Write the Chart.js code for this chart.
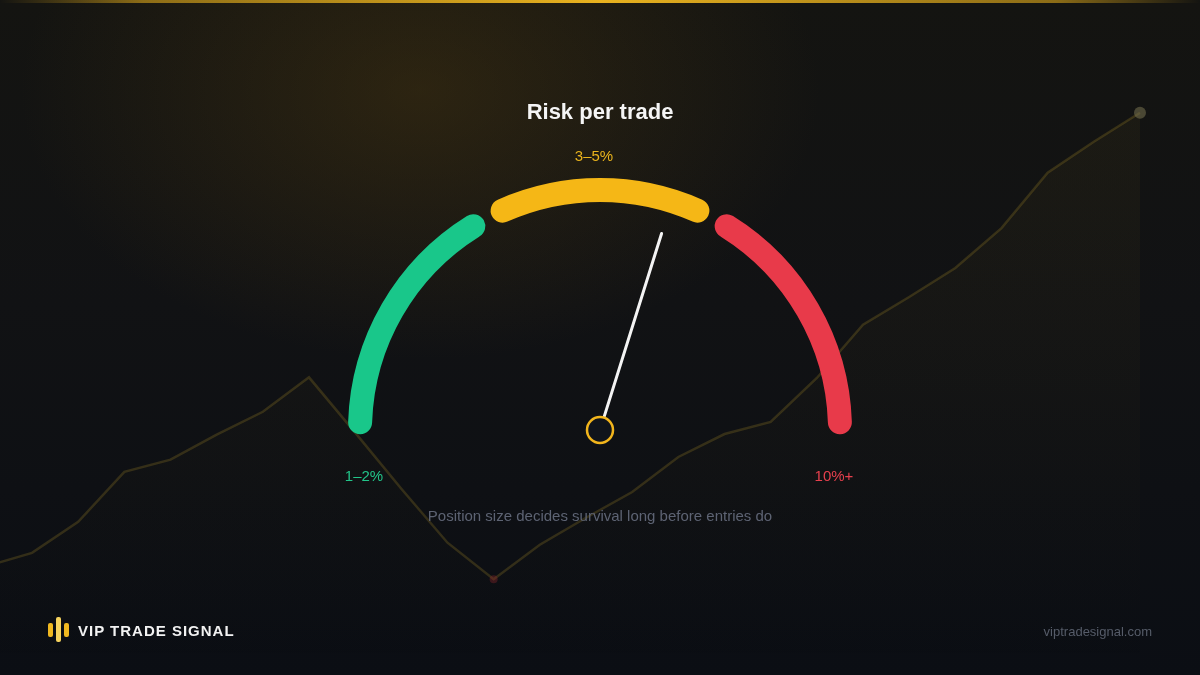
<!DOCTYPE html>
<html><head><meta charset="utf-8">
<script src="https://cdn.jsdelivr.net/npm/chart.js@4.4.1/dist/chart.umd.min.js"></script>
<style>
html,body{margin:0;padding:0;width:1200px;height:675px;overflow:hidden;background:#0c0f15;}
#stage{position:relative;width:1200px;height:675px;overflow:hidden;
background:
 radial-gradient(ellipse 400px 270px at 420px 90px, rgba(90,66,16,0.36), rgba(90,66,16,0) 100%),
 linear-gradient(180deg,#141411 0%,#111214 45%,#0b0e14 100%);
font-family:"Liberation Sans", Arial, sans-serif;}
#topbar{position:absolute;left:0;top:0;width:1200px;height:3px;background:linear-gradient(90deg,rgba(200,150,20,0) 0%, rgba(190,145,25,.7) 12%, #e9b21f 50%, rgba(190,145,25,.7) 88%, rgba(200,150,20,0) 100%);}
#bg{position:absolute;left:0;top:0;}
#gauge{position:absolute;left:320px;top:150px;}
.t{position:absolute;white-space:nowrap;transform:translate(-50%,-50%);line-height:1;}
#title{left:600px;top:112px;font-weight:bold;font-size:22px;color:#f5f5f5;}
#sub{left:600px;top:515px;font-size:15px;color:#5d6373;}
#brand{position:absolute;left:78px;top:630px;transform:translateY(-50%);font-weight:bold;font-size:15px;letter-spacing:1px;color:#f2f2f2;line-height:1;}
#site{position:absolute;right:48px;top:631px;transform:translateY(-50%);font-size:13px;color:#565c69;line-height:1;}
.bar{position:absolute;width:5px;border-radius:2px;}
</style></head>
<body>
<div id="stage">
  <div id="topbar"></div>
  <canvas id="bg" width="1200" height="675"></canvas>
  <div class="t" id="title">Risk per trade</div>
  <div class="t" id="sub">Position size decides survival long before entries do</div>
  <div id="zoneLabels"></div>
  <canvas id="gauge" width="560" height="560"></canvas>
  <div class="bar" style="left:48px;top:623px;height:14px;background:#f0b820;"></div>
  <div class="bar" style="left:56px;top:617px;height:25px;background:#f6d35e;"></div>
  <div class="bar" style="left:64px;top:623px;height:14px;background:#f0b820;"></div>
  <div id="brand">VIP TRADE SIGNAL</div>
  <div id="site">viptradesignal.com</div>
</div>
<script>
// ---- background trend line (decorative price path) ----
const trendIndex  = [-1,0,1,2,3,4,5,6,7,8,9,10,11,12,13,14,15,16,17,18,19,20,21,22,23,24];
const trendValues = [16.1,18.1,22.7,30.1,31.9,35.6,39.0,44.1,35.9,27.6,19.6,14.2,19.3,23.3,27.1,32.3,35.7,37.5,44.0,51.9,56.0,60.3,66.2,74.4,79.0,83.3];
const troughIndex = 10;

// ---- gauge ----
const zoneLabels = ['1–2%','3–5%','10%+'];
const zoneSweeps = [62, 53.6, 62];      // degrees of the dial covered by each band
const zoneGap = 2.2;                      // degrees between bands
const zoneColors = ['#19c78a','#f5b716','#e83a4a'];
const zoneTextColors = ['#22c489','#e9b31c','#e5404d'];
const dialOffset = -1;                    // first band starts 1° below horizontal
const needleValue = 107.4;                // needle position, degrees along the dial from the left

const trendPoints = trendIndex.map((x,i)=>({x, y: trendValues[i]}));
const last = trendPoints.length - 1;

new Chart(document.getElementById('bg'), {
  type:'line',
  data:{datasets:[{
    data: trendPoints,
    borderColor:'rgba(205,170,45,0.2)',
    borderWidth:2.5,
    tension:0,
    fill:'origin',
    clip:false,
    backgroundColor:(ctx)=>{
      const c = ctx.chart.ctx;
      const g = c.createLinearGradient(0,100,0,675);
      g.addColorStop(0,'rgba(200,165,50,0.05)');
      g.addColorStop(1,'rgba(200,165,50,0)');
      return g;
    },
    pointRadius: trendPoints.map((p,i)=> i===last ? 6 : (trendIndex[i]===troughIndex ? 4 : 0)),
    pointBackgroundColor: trendPoints.map((p,i)=> i===last ? 'rgba(120,115,80,0.55)' : 'rgba(150,40,45,0.35)'),
    pointBorderWidth:0
  }]},
  options:{
    responsive:false, animation:false, events:[],
    layout:{padding:0, autoPadding:false},
    plugins:{legend:{display:false}, tooltip:{enabled:false}},
    scales:{
      x:{type:'linear', display:false, min:-0.6931, max:25.300},
      y:{type:'linear', display:false, min:0, max:100}
    }
  }
});

// doughnut data: bands separated by transparent gaps, remainder hidden
const gData = [], gColors = [], gRadius = [];
zoneSweeps.forEach((s,i)=>{
  gData.push(s); gColors.push(zoneColors[i]); gRadius.push(12);
  if(i < zoneSweeps.length-1){ gData.push(zoneGap); gColors.push('rgba(0,0,0,0)'); gRadius.push(0); }
});
const used = gData.reduce((a,b)=>a+b,0);
gData.push(360-used); gColors.push('rgba(0,0,0,0)'); gRadius.push(0);

const needlePlugin = {
  id:'needle',
  afterDatasetsDraw(chart){
    const arc = chart.getDatasetMeta(0).data[0];
    const cx = arc.x, cy = arc.y;
    const a = (180 + needleValue) * Math.PI/180;
    const c = chart.ctx;
    c.save();
    c.strokeStyle = '#f4f4f4';
    c.lineWidth = 3;
    c.lineCap = 'round';
    c.beginPath();
    c.moveTo(cx + Math.cos(a)*14, cy + Math.sin(a)*14);
    c.lineTo(cx + Math.cos(a)*206, cy + Math.sin(a)*206);
    c.stroke();
    c.beginPath();
    c.arc(cx, cy, 13, 0, Math.PI*2);
    c.fillStyle = '#10141b';
    c.fill();
    c.lineWidth = 2.5;
    c.strokeStyle = '#f2b51c';
    c.stroke();
    c.restore();
  }
};

new Chart(document.getElementById('gauge'), {
  type:'doughnut',
  data:{labels: gData.map((_,i)=>String(i)), datasets:[{
    data: gData, backgroundColor: gColors, borderWidth:0, borderRadius: gRadius, hoverOffset:0
  }]},
  options:{
    responsive:false, animation:false, events:[],
    rotation: -90 + dialOffset, circumference:360,
    radius:252, cutout:'90.476%',
    layout:{padding:0},
    plugins:{legend:{display:false}, tooltip:{enabled:false}}
  },
  plugins:[needlePlugin]
});

// zone labels
const labelPos = [[364,475],[594,155],[834,475]];
const zl = document.getElementById('zoneLabels');
zoneLabels.forEach((t,i)=>{
  const d = document.createElement('div');
  d.className = 't';
  d.textContent = t;
  d.style.left = labelPos[i][0]+'px';
  d.style.top = labelPos[i][1]+'px';
  d.style.fontSize = '15px';
  d.style.color = zoneTextColors[i];
  zl.appendChild(d);
});
</script>
</body></html>
